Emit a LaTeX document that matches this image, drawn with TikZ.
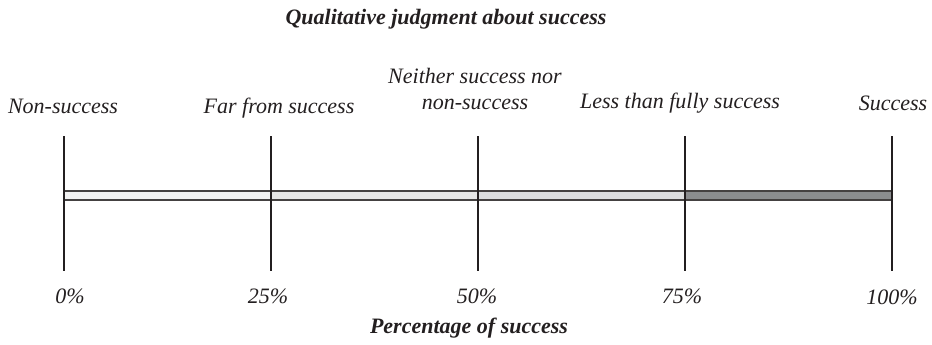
\documentclass[tikz,border=0pt]{standalone}
\usepackage{fontspec}
\setmainfont{Liberation Serif}
\definecolor{barA}{HTML}{F2F2F2}
\definecolor{barB}{HTML}{E6E6E6}
\definecolor{barC}{HTML}{DCDDDF}
\definecolor{barD}{HTML}{8B8D8F}
\definecolor{ink}{HTML}{231F20}
\tikzset{
  lbl/.style={font=\fontsize{22}{25.5}\selectfont\itshape, text=ink, inner sep=0pt, align=center},
  ttl/.style={font=\fontsize{22}{25}\selectfont\bfseries\itshape, text=ink, inner sep=0pt},
  tick/.style={line width=2pt, ink},
  seg/.style={draw=ink!85, line width=1.3pt}
}
\begin{document}
\begin{tikzpicture}[x=1pt, y=-1pt]
    \useasboundingbox (0,0) rectangle (932,345);
    % Titel oben
    \node[ttl] (title) at (446,19) {Qualitative judgment about success};

    % Balken in vier Abschnitten
    \filldraw[seg, fill=barA] (64,191) rectangle (271,200);
    \filldraw[seg, fill=barB] (271,191) rectangle (478,200);
    \filldraw[seg, fill=barC] (478,191) rectangle (685,200);
    \filldraw[seg, fill=barD] (685,191) rectangle (892,200);

    % Skalenstriche
    \foreach \i/\x in {0/64, 1/271, 2/478, 3/685, 4/892} {
        \coordinate (top\i) at (\x,136);
        \coordinate (bot\i) at (\x,271);
        \draw[tick] (top\i) -- (bot\i);
    }

    % Bewertungen
    \node[lbl] (q0) at (63,106) {Non-success};
    \node[lbl] (q1) at (279,108) {Far from success};
    \node[lbl] (q2) at (475,89) {Neither success nor\\non-success};
    \node[lbl] (q3) at (680,103) {Less than fully success};
    \node[lbl] (q4) at (893,103) {Success};

    % Prozentwerte
    \node[lbl] (p0) at (70,296) {0\%};
    \node[lbl] (p1) at (268,296) {25\%};
    \node[lbl] (p2) at (477,296) {50\%};
    \node[lbl] (p3) at (682,296) {75\%};
    \node[lbl] (p4) at (892,297) {100\%};

    \node[ttl] (axis) at (469,328) {Percentage of success};
\end{tikzpicture}
\end{document}
